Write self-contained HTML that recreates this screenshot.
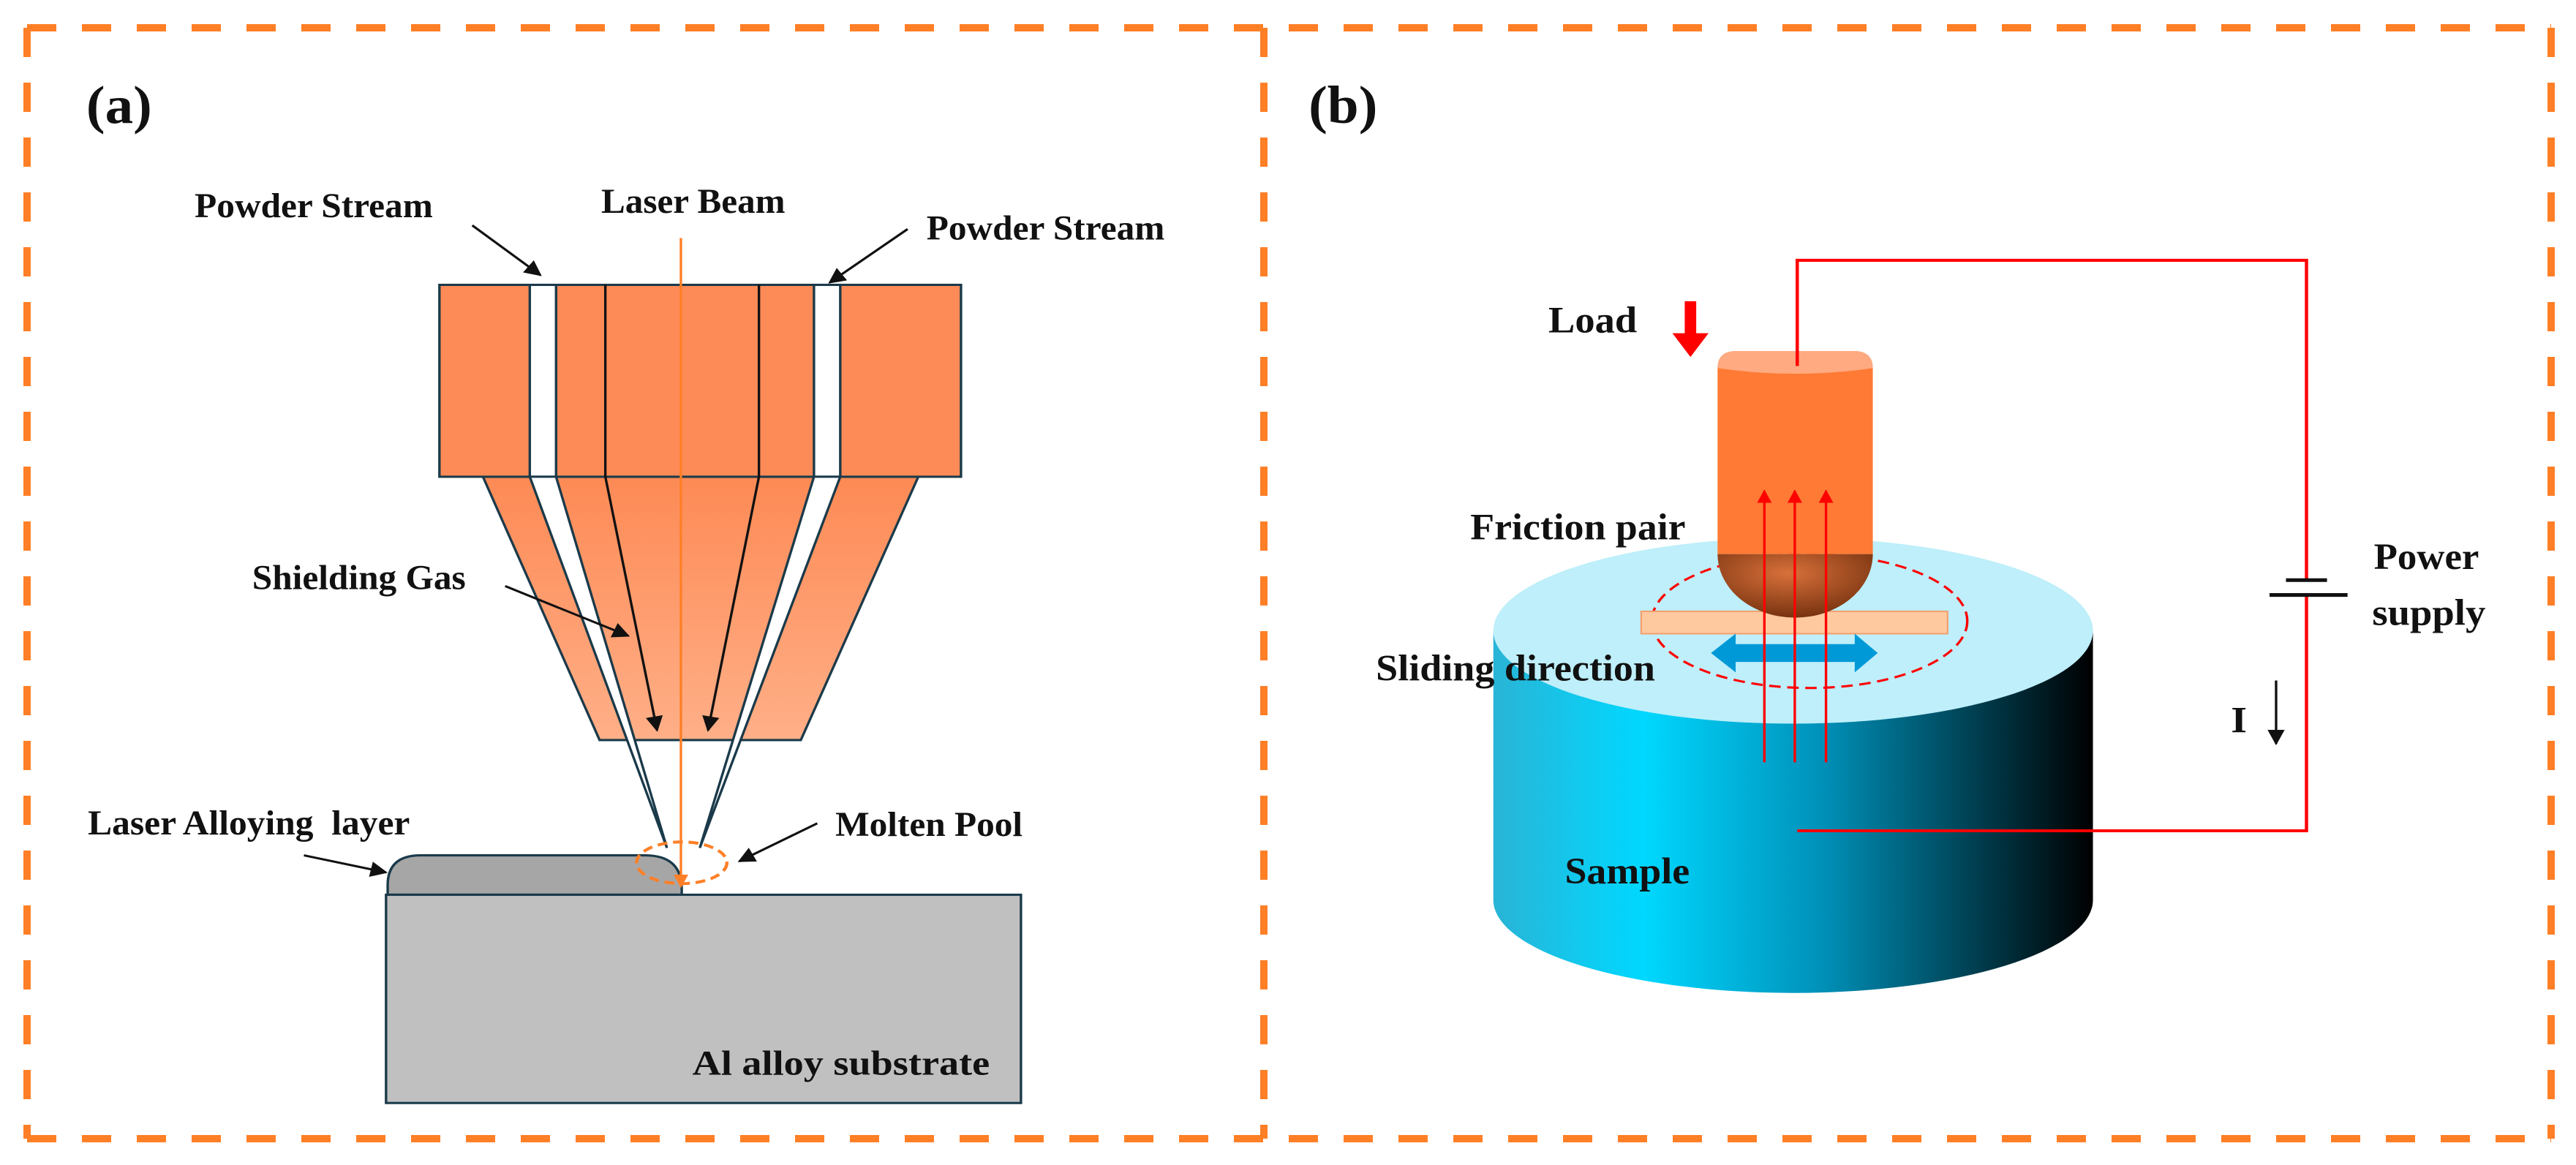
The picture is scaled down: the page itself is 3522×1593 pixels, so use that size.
<!DOCTYPE html>
<html><head><meta charset="utf-8"><style>html,body{margin:0;padding:0;background:#fff;overflow:hidden}svg{display:block}text{font-family:"Liberation Serif",serif;font-weight:bold;fill:#111}</style></head>
<body>
<svg width="3522" height="1593" viewBox="0 0 3522 1593" xmlns="http://www.w3.org/2000/svg">
<defs>
<marker id="ah" viewBox="0 0 10 10" refX="9" refY="5" markerWidth="7" markerHeight="7" orient="auto"><path d="M0,0 L10,5 L0,10 z" fill="#111"/></marker>
<marker id="ahr" viewBox="0 0 10 10" refX="9" refY="5" markerWidth="6" markerHeight="6" orient="auto"><path d="M0,0 L10,5 L0,10 z" fill="#f00"/></marker>
<marker id="aho" viewBox="0 0 10 10" refX="9" refY="5" markerWidth="6" markerHeight="6" orient="auto"><path d="M0,0 L10,5 L0,10 z" fill="#FF7F27"/></marker>
<linearGradient id="trap" x1="0" y1="0" x2="0" y2="1"><stop offset="0" stop-color="#FD8A55"/><stop offset="1" stop-color="#FFAF88"/></linearGradient>
<linearGradient id="cyl" x1="0" y1="0" x2="1" y2="0"><stop offset="0" stop-color="#2AB4D6"/><stop offset="0.25" stop-color="#00D8FF"/><stop offset="0.55" stop-color="#0090B8"/><stop offset="1" stop-color="#000"/></linearGradient>
<radialGradient id="hemi" cx="0.45" cy="0.3" r="0.8"><stop offset="0" stop-color="#D8703A"/><stop offset="1" stop-color="#6A2A0A"/></radialGradient>
</defs>
<rect width="3522" height="1593" fill="#fff"/>
<g fill="none" stroke="#FF7F27" stroke-width="10" stroke-dasharray="40,35">
<line x1="37" y1="38" x2="3488" y2="38"/>
<line x1="37" y1="1557" x2="3488" y2="1557"/>
<line x1="37" y1="38" x2="37" y2="1557"/>
<line x1="1728" y1="38" x2="1728" y2="1557"/>
<line x1="3488" y1="38" x2="3488" y2="1557"/>
</g>
<!-- Panel A -->
<g transform="scale(1.123,1.017)">
<text x="105" y="165" font-size="72" textLength="80" lengthAdjust="spacingAndGlyphs">(a)</text>
<polygon points="588,641 1118,641 975,995 730,995" fill="url(#trap)" stroke="#1a3a4a" stroke-width="3"/>
<rect x="535" y="383" width="635" height="258" fill="#FD8B57" stroke="#1a3a4a" stroke-width="3"/>
<rect x="645" y="383" width="32" height="258" fill="#fff" stroke="#1a3a4a" stroke-width="3"/>
<rect x="991" y="383" width="32" height="258" fill="#fff" stroke="#1a3a4a" stroke-width="3"/>
<line x1="737" y1="383" x2="737" y2="641" stroke="#111" stroke-width="3"/>
<line x1="924" y1="383" x2="924" y2="641" stroke="#111" stroke-width="3"/>
<polygon points="645,641 677,641 812,1140" fill="#fff" stroke="#1a3a4a" stroke-width="3"/>
<polygon points="991,641 1023,641 852,1140" fill="#fff" stroke="#1a3a4a" stroke-width="3"/>
<line x1="737" y1="641" x2="800" y2="982" stroke="#111" stroke-width="3" marker-end="url(#ah)"/>
<line x1="924" y1="641" x2="862" y2="982" stroke="#111" stroke-width="3" marker-end="url(#ah)"/>
<path d="M472,1203 L472,1190 Q472,1150 512,1150 L785,1150 Q830,1150 830,1195 L830,1203 Z" fill="#A6A6A6" stroke="#1a3a4a" stroke-width="3"/>
<rect x="470" y="1203" width="773" height="280" fill="#C0C0C0" stroke="#1a3a4a" stroke-width="3"/>
<line x1="829" y1="320" x2="829" y2="1192" stroke="#FF7F27" stroke-width="3" marker-end="url(#aho)"/>
<ellipse cx="830" cy="1160" rx="55" ry="28" fill="none" stroke="#FF7F27" stroke-width="4" stroke-dasharray="12,7"/>
<g stroke="#111" stroke-width="3" marker-end="url(#ah)">
<line x1="575" y1="303" x2="658" y2="370"/>
<line x1="1105" y1="308" x2="1010" y2="380"/>
<line x1="615" y1="788" x2="765" y2="855"/>
<line x1="370" y1="1150" x2="470" y2="1173"/>
<line x1="995" y1="1107" x2="900" y2="1158"/>
</g>
<g font-size="47">
<text x="237" y="292" textLength="290" lengthAdjust="spacingAndGlyphs">Powder Stream</text>
<text x="732" y="286" textLength="224" lengthAdjust="spacingAndGlyphs">Laser Beam</text>
<text x="1128" y="322" textLength="290" lengthAdjust="spacingAndGlyphs">Powder Stream</text>
<text x="307" y="792" textLength="260" lengthAdjust="spacingAndGlyphs">Shielding Gas</text>
<text x="107" y="1122" xml:space="preserve" textLength="392" lengthAdjust="spacingAndGlyphs">Laser Alloying  layer</text>
<text x="1017" y="1124" textLength="228" lengthAdjust="spacingAndGlyphs">Molten Pool</text>
<text x="843" y="1445" textLength="362" lengthAdjust="spacingAndGlyphs">Al alloy substrate</text>
</g>
</g>
<!-- Panel B -->
<g transform="translate(1761,0) scale(1.123,1.017)">
<text x="25" y="165" font-size="72" textLength="84" lengthAdjust="spacingAndGlyphs">(b)</text>
<path d="M250,848 L250,1210 A365,125 0 0 0 980,1210 L980,848 Z" fill="url(#cyl)"/>
<ellipse cx="615" cy="848" rx="365" ry="125" fill="#BEEFFA"/>
<ellipse cx="635" cy="835" rx="192" ry="90" fill="none" stroke="#f00" stroke-width="3" stroke-dasharray="14,8"/>
<rect x="430" y="822" width="373" height="30" fill="#FFC9A0" stroke="#F4A070" stroke-width="2"/>
<path d="M523,745 A94,85 0 0 0 712,745 Z" fill="url(#hemi)"/>
<path d="M523,745 L523,495 Q523,472 546,472 L689,472 Q712,472 712,495 L712,745 Z" fill="#FF7A35"/>
<path d="M523,495 Q523,472 546,472 L689,472 Q712,472 712,495 Q617,510 523,495 Z" fill="#FFAA80"/>
<polygon points="515,878 545,852 545,866 690,866 690,852 718,878 690,904 690,890 545,890 545,904" fill="#0099D8"/>
<g stroke="#f00" stroke-width="3" marker-end="url(#ahr)">
<line x1="580" y1="1025" x2="580" y2="660"/>
<line x1="617" y1="1025" x2="617" y2="660"/>
<line x1="655" y1="1025" x2="655" y2="660"/>
</g>
<polyline points="620,492 620,350 1240,350 1240,780" fill="none" stroke="#f00" stroke-width="4"/>
<polyline points="1240,800 1240,1117 620,1117" fill="none" stroke="#f00" stroke-width="4"/>
<line x1="1215" y1="780" x2="1265" y2="780" stroke="#111" stroke-width="5"/>
<line x1="1195" y1="800" x2="1290" y2="800" stroke="#111" stroke-width="5"/>
<rect x="483" y="405" width="14" height="45" fill="#f00"/>
<polygon points="468,448 512,448 490,480" fill="#f00"/>
<line x1="1203" y1="915" x2="1203" y2="1000" stroke="#111" stroke-width="3" marker-end="url(#ah)"/>
<g font-size="50">
<text x="317" y="447" textLength="108" lengthAdjust="spacingAndGlyphs">Load</text>
<text x="222" y="725" textLength="262" lengthAdjust="spacingAndGlyphs">Friction pair</text>
<text x="107" y="915" textLength="340" lengthAdjust="spacingAndGlyphs">Sliding direction</text>
<text x="337" y="1188" textLength="152" lengthAdjust="spacingAndGlyphs">Sample</text>
<text x="1322" y="765" textLength="128" lengthAdjust="spacingAndGlyphs">Power</text>
<text x="1320" y="840" textLength="138" lengthAdjust="spacingAndGlyphs">supply</text>
<text x="1148" y="985">I</text>
</g>
</g>
</svg>
</body></html>
